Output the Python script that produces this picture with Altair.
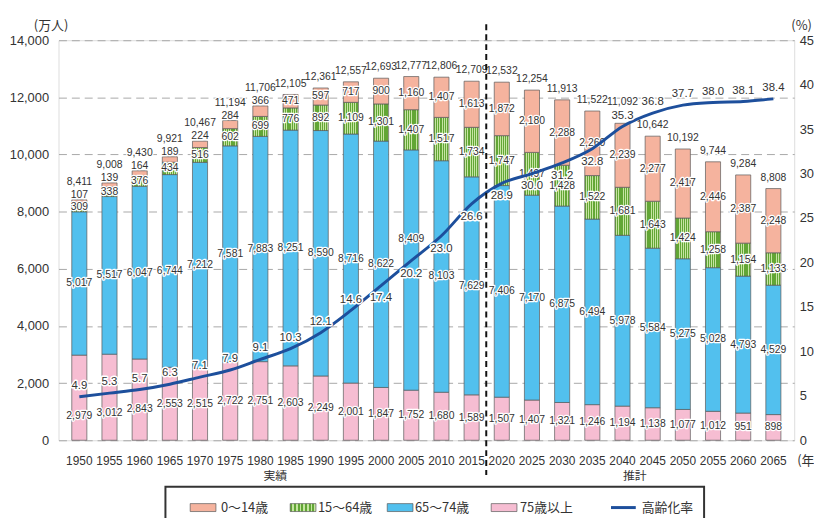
import altair as alt
import pandas as pd

# ---------------- data (万人 / %) ----------------
years = ["1950", "1955", "1960", "1965", "1970", "1975", "1980", "1985", "1990", "1995",
         "2000", "2005", "2010", "2015", "2020", "2025", "2030", "2035", "2040", "2045",
         "2050", "2055", "2060", "2065"]
# bottom (pink) segment
seg_bottom = [2979, 3012, 2843, 2553, 2515, 2722, 2751, 2603, 2249, 2001, 1847, 1752, 1680,
              1589, 1507, 1407, 1321, 1246, 1194, 1138, 1077, 1012, 951, 898]
# second (blue) segment
seg_second = [5017, 5517, 6047, 6744, 7212, 7581, 7883, 8251, 8590, 8716, 8622, 8409, 8103,
              7629, 7406, 7170, 6875, 6494, 5978, 5584, 5275, 5028, 4793, 4529]
# third (green) segment
seg_third = [309, 338, 376, 434, 516, 602, 699, 776, 892, 1109, 1301, 1407, 1517, 1734, 1747,
             1497, 1428, 1522, 1681, 1643, 1424, 1258, 1154, 1133]
# top (orange) segment
seg_top = [107, 139, 164, 189, 224, 284, 366, 471, 597, 717, 900, 1160, 1407, 1613, 1872,
           2180, 2288, 2260, 2239, 2277, 2417, 2446, 2387, 2248]
totals = [8411, 9008, 9430, 9921, 10467, 11194, 11706, 12105, 12361, 12557, 12693, 12777,
          12806, 12709, 12532, 12254, 11913, 11522, 11092, 10642, 10192, 9744, 9284, 8808]
aging_rate = [4.9, 5.3, 5.7, 6.3, 7.1, 7.9, 9.1, 10.3, 12.1, 14.6, 17.4, 20.2, 23.0, 26.6,
              28.9, 30.0, 31.2, 32.8, 35.3, 36.8, 37.7, 38.0, 38.1, 38.4]
rate_labels_below = ["2000", "2005", "2010", "2015", "2020", "2025", "2030", "2035"]

legend_labels = ["0～14歳", "15～64歳", "65～74歳", "75歳以上", "高齢化率"]
left_ticks = [0, 2000, 4000, 6000, 8000, 10000, 12000, 14000]
right_ticks = [0, 5, 10, 15, 20, 25, 30, 35, 40, 45]

# ---------------- style ----------------
W, H = 743, 404
YMAX, RMAX = 14000, 45
KY = YMAX / H
KR = RMAX / H
PINK = "#f6bdd2"
BLUE = "#52c0ee"
ORANGE = "#f5b39e"
GREEN_D = "#62a635"
GREEN_L = "#c6e5a2"
LINE = "#1d4f9c"
TXT = "#333333"
NUMFONT = "Liberation Sans"
JPFONT = "Noto Sans CJK JP"

stops = []
n = 7
for i in range(n):
    a, b, c = i / n, (i + 0.58) / n, (i + 1) / n
    stops += [alt.GradientStop(offset=a, color=GREEN_D), alt.GradientStop(offset=b, color=GREEN_D),
              alt.GradientStop(offset=b, color=GREEN_L), alt.GradientStop(offset=c, color=GREEN_L)]
GREEN_FILL = alt.Gradient(gradient="linear", stops=stops, x1=0, x2=1, y1=0, y2=0)

# ---------------- derived tables ----------------
seg_rows, lab_rows, rate_rows = [], [], []
for i, yr in enumerate(years):
    cum = 0
    r = aging_rate[i]
    line_px = r / KR
    vals = [seg_bottom[i], seg_second[i], seg_third[i], seg_top[i]]
    for s, v in zip(["bottom", "second", "third", "top"], vals):
        y0, y1 = cum, cum + v
        cum = y1
        seg_rows.append({"year": yr, "seg": s, "y0": y0, "y1": y1})
        mid_px = (y0 + y1) / 2 / KY
        if s == "top" and v < 400:
            lpx = y1 / KY + 5
        elif s == "bottom":
            lpx = min(mid_px, line_px - 20)
        elif s == "second" and abs(line_px - mid_px) < 25:
            lpx = line_px + 22
        else:
            lpx = mid_px
        lab_rows.append({"year": yr, "txt": f"{v:,}", "ly": lpx * KY})
    below = yr in rate_labels_below
    r_px = line_px + (-13 if below else 11)
    rate_rows.append({"year": yr, "rate": r, "txt": f"{r:.1f}", "ly": r_px * KR})
    t_px = cum / KY + (18 if seg_top[i] < 400 else 11)
    if not below and abs(t_px - r_px) < 13:
        t_px = r_px + 14
    lab_rows.append({"year": yr, "txt": f"{totals[i]:,}", "ly": t_px * KY})

seg_df = pd.DataFrame(seg_rows)
lab_df = pd.DataFrame(lab_rows)
rate_df = pd.DataFrame(rate_rows)
dummy = pd.DataFrame({"d": [0]})

# ---------------- encodings ----------------
x_enc = alt.X("year:O", sort=years,
              scale=alt.Scale(paddingInner=0.5, paddingOuter=0.44),
              axis=alt.Axis(title=None, labelAngle=0, ticks=False, domain=False, grid=False,
                            labelFontSize=12, labelColor=TXT, labelFont=NUMFONT, labelPadding=16))
y_axis = alt.Axis(values=left_ticks, format=",.0f", ticks=False, domain=False, grid=True,
                  gridDash=[8, 5], gridColor="#a8a8a8", gridWidth=1,
                  labelFontSize=13, labelColor=TXT, labelFont=NUMFONT, labelPadding=10,
                  title="(万人)", titleAngle=0, titleX=-8, titleY=-15, titleAlign="center",
                  titleBaseline="middle", titleFontSize=13, titleFontWeight="normal",
                  titleColor=TXT, titleFont=JPFONT)
y_scale = alt.Scale(domain=[0, YMAX], nice=False, zero=True)
r_axis = alt.Axis(values=right_ticks, orient="right", ticks=False, domain=False, grid=False,
                  labelFontSize=13, labelColor=TXT, labelFont=NUMFONT, labelPadding=5,
                  title="(%)", titleAngle=0, titleX=7, titleY=-15, titleAlign="center",
                  titleBaseline="middle", titleFontSize=13, titleFontWeight="normal",
                  titleColor=TXT, titleFont=JPFONT)
r_scale = alt.Scale(domain=[0, RMAX], nice=False, zero=True)

base = alt.Chart(seg_df)


def seg_layer(name, fill):
    return base.transform_filter(alt.datum.seg == name).mark_bar(
        fill=fill, stroke="#5a5a5a", strokeWidth=0.7
    ).encode(x=x_enc, y=alt.Y("y0:Q", scale=y_scale, axis=y_axis), y2="y1:Q")


bars = [seg_layer("bottom", PINK), seg_layer("second", BLUE),
        seg_layer("third", GREEN_FILL), seg_layer("top", ORANGE)]

lab_base = alt.Chart(lab_df).encode(x=x_enc, y=alt.Y("ly:Q", scale=y_scale, axis=y_axis),
                                    text="txt:N")
lab_halo = lab_base.mark_text(fontSize=10.5, font=NUMFONT, color="white", stroke="white",
                              strokeWidth=2.5, strokeJoin="round", baseline="middle")
lab_txt = lab_base.mark_text(fontSize=10.5, font=NUMFONT, color=TXT, baseline="middle")

left = alt.layer(*bars, lab_halo, lab_txt)

line = alt.Chart(rate_df).mark_line(color=LINE, strokeWidth=3, interpolate="monotone").encode(
    x=x_enc, y=alt.Y("rate:Q", scale=r_scale, axis=r_axis))
r_base = alt.Chart(rate_df).encode(x=x_enc, y=alt.Y("ly:Q", scale=r_scale, axis=r_axis),
                                   text="txt:N")
r_halo = r_base.mark_text(fontSize=11.5, font=NUMFONT, color="white", stroke="white",
                          strokeWidth=3, strokeJoin="round", baseline="middle")
r_txt = r_base.mark_text(fontSize=11.5, font=NUMFONT, color=TXT, baseline="middle")
right = alt.layer(line, r_halo, r_txt)

# ---------------- annotations ----------------
ann = alt.Chart(dummy)
divider = ann.mark_rule(color="#111", strokeWidth=2, strokeDash=[6, 4]).encode(
    x=alt.value(432), y=alt.value(-16), y2=alt.value(439))
t_jisseki = ann.mark_text(text="実績", font=JPFONT, fontSize=12, color=TXT).encode(
    x=alt.value(219), y=alt.value(440))
t_suikei = ann.mark_text(text="推計", font=JPFONT, fontSize=12, color=TXT).encode(
    x=alt.value(582), y=alt.value(440))
t_nen = ann.mark_text(text="(年)", font=JPFONT, fontSize=13, color=TXT, align="left").encode(
    x=alt.value(746), y=alt.value(425))

legend_box = ann.mark_rect(fillOpacity=0, stroke="#333", strokeWidth=2).encode(
    x=alt.value(108), x2=alt.value(652), y=alt.value(451), y2=alt.value(520))
sw_x = [133, 234, 332, 437]
sw_fill = [ORANGE, GREEN_FILL, BLUE, PINK]
txt_x = [164, 262, 360, 466, 589]
legend_layers = [legend_box]
for sx, sf in zip(sw_x, sw_fill):
    legend_layers.append(ann.mark_rect(fill=sf, stroke="#5a5a5a", strokeWidth=0.7).encode(
        x=alt.value(sx), x2=alt.value(sx + 26), y=alt.value(468), y2=alt.value(476)))
legend_layers.append(ann.mark_rule(color=LINE, strokeWidth=3).encode(
    x=alt.value(558), x2=alt.value(583), y=alt.value(472)))
for tx, lab in zip(txt_x, legend_labels):
    legend_layers.append(ann.mark_text(text=lab, font=JPFONT, fontSize=13, color=TXT,
                                       align="left", baseline="middle").encode(
        x=alt.value(tx), y=alt.value(472)))

overlay = alt.layer(divider, t_jisseki, t_suikei, t_nen, *legend_layers)

chart = alt.layer(left, right, overlay).resolve_scale(y="independent").properties(
    width=W, height=H,
    padding={"left": 51, "top": 30, "right": 20, "bottom": 76},
    autosize=alt.AutoSizeParams(type="none"),
).configure_view(stroke="#8a8a8a", strokeWidth=1).configure(background="white")

chart.save("out.html", embed_options={"renderer": "svg", "actions": False})
